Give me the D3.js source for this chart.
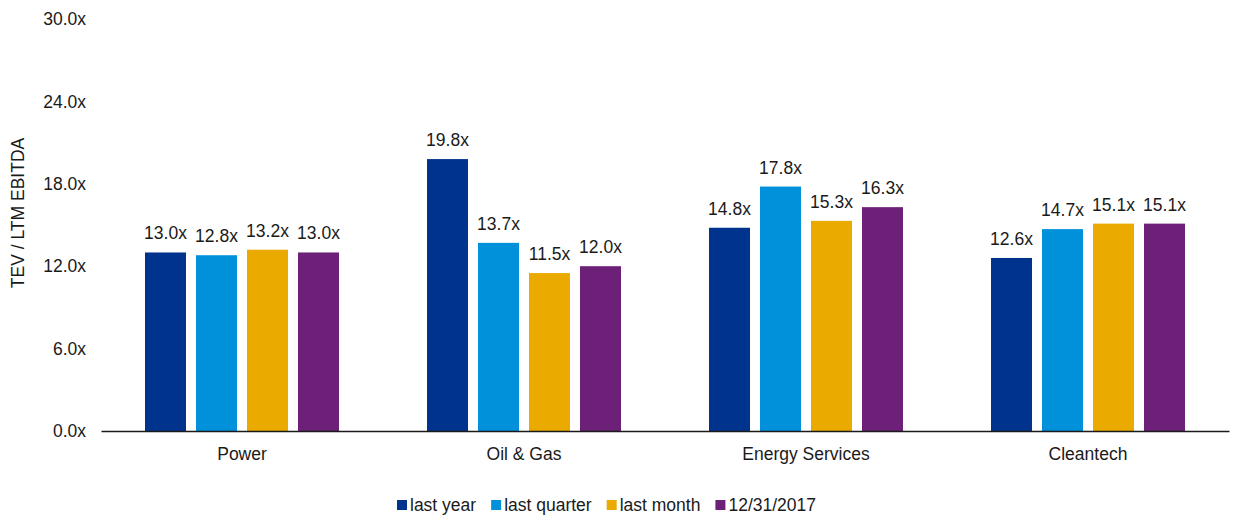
<!DOCTYPE html>
<html>
<head>
<meta charset="utf-8">
<script src="https://cdn.jsdelivr.net/npm/d3@7"></script>
<style>
  body { margin: 0; background: #fff; }
  svg text { font-family: "Liberation Sans", Arial, sans-serif; fill: #1a1a1a; }
</style>
</head>
<body>
<svg id="chart" width="1234" height="515"></svg>
<script>
const categories = ["Power", "Oil & Gas", "Energy Services", "Cleantech"];
const seriesNames = ["last year", "last quarter", "last month", "12/31/2017"];
const seriesColors = ["#00338D", "#0091DA", "#EAAA00", "#6D2077"];
const lastYear = [13.0, 19.8, 14.8, 12.6];
const lastQuarter = [12.8, 13.7, 17.8, 14.7];
const lastMonth = [13.2, 11.5, 15.3, 15.1];
const dec2017 = [13.0, 12.0, 16.3, 15.1];
const yTicks = [0, 6, 12, 18, 24, 30];

const seriesValues = [lastYear, lastQuarter, lastMonth, dec2017];
const FS = 17.5;

const svg = d3.select("#chart");
const x0 = d3.scaleBand().domain(categories).range([101, 1229]).paddingInner(0).paddingOuter(0);
const x1 = d3.scaleBand().domain(seriesNames).range([44, 238]).paddingInner(10/51).paddingOuter(0);
const y = d3.scaleLinear().domain([0, 30]).range([431, 19]);

// y-axis tick labels
const yAxis = d3.axisLeft(y).tickValues(yTicks).tickSize(0).tickPadding(0)
  .tickFormat(d => d3.format(".1f")(d) + "x");
const gy = svg.append("g").attr("transform", "translate(86,0)").call(yAxis);
gy.select(".domain").remove();
gy.selectAll("text").attr("font-size", FS).attr("font-family", "Liberation Sans, Arial, sans-serif").attr("fill", "#1a1a1a");

// y title
svg.append("text")
  .attr("transform", "translate(24,213) rotate(-90)")
  .attr("text-anchor", "middle")
  .attr("font-size", FS)
  .text("TEV / LTM EBITDA");

// bars
const groups = svg.append("g").selectAll("g")
  .data(categories).join("g")
  .attr("transform", d => `translate(${x0(d)},0)`);

groups.selectAll("rect")
  .data((c, ci) => seriesNames.map((s, si) => ({ s, si, v: seriesValues[si][ci] })))
  .join("rect")
  .attr("x", d => x1(d.s))
  .attr("width", x1.bandwidth())
  .attr("y", d => y(d.v))
  .attr("height", d => y(0) - y(d.v))
  .attr("fill", d => seriesColors[d.si]);

groups.selectAll("text.val")
  .data((c, ci) => seriesNames.map((s, si) => ({ s, si, v: seriesValues[si][ci] })))
  .join("text")
  .attr("class", "val")
  .attr("x", d => x1(d.s) + x1.bandwidth() / 2)
  .attr("y", d => y(d.v) - 13)
  .attr("text-anchor", "middle")
  .attr("font-size", FS)
  .text(d => d3.format(".1f")(d.v) + "x");

// x axis
const xAxis = d3.axisBottom(x0).tickSize(0).tickPadding(17);
const gx = svg.append("g").attr("transform", "translate(0,431)").call(xAxis);
gx.select(".domain").attr("stroke", "#1a1a1a").attr("stroke-width", 1.5);
gx.selectAll("text").attr("font-size", FS).attr("font-family", "Liberation Sans, Arial, sans-serif").attr("fill", "#1a1a1a");

// legend
const legend = svg.append("g");
let lx = 397;
seriesNames.forEach((name, i) => {
  legend.append("rect").attr("x", lx).attr("y", 500).attr("width", 10).attr("height", 10).attr("fill", seriesColors[i]);
  const t = legend.append("text").attr("x", lx + 13).attr("y", 511).attr("font-size", FS).text(name);
  const w = t.node().getComputedTextLength();
  lx += 13 + w + 15;
});
</script>
</body>
</html>
